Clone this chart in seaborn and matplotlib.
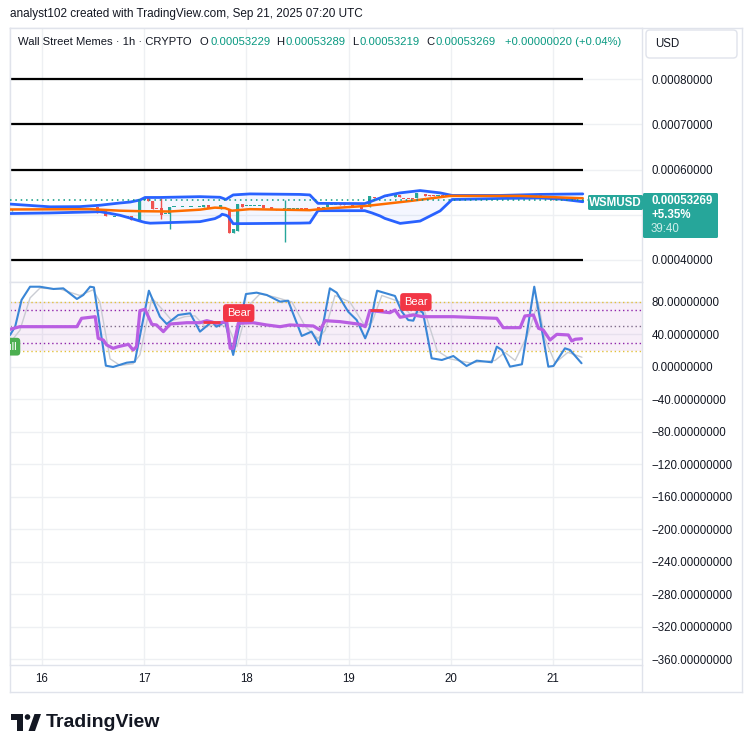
import matplotlib
matplotlib.use("Agg")
import matplotlib.pyplot as plt
import matplotlib.patches as mpatches
from matplotlib.lines import Line2D
import numpy as np
import pandas as pd
import seaborn as sns

# Time axis: hours since Sep 16 00:00 UTC. Prices in units of 1e-8 USD.
day_ticks = [0, 24, 48, 72, 96, 120]
day_labels = ["16", "17", "18", "19", "20", "21"]

candle_hour = [-7, -5, -3, -1, 1, 3, 5, 7, 9, 10, 11, 13, 15, 17, 19, 20, 21, 22, 23, 24,
               25, 26, 27, 28, 29, 30, 31, 33, 35, 37, 38, 39, 40, 42, 44, 45, 46, 47, 48, 49,
               50, 51, 52, 54, 55, 57, 58, 59, 60, 61, 62, 65, 66, 67, 68, 69, 70, 71, 73, 75,
               77, 78, 80, 81, 83, 84, 85, 86, 87, 88, 89, 90, 91, 92, 93, 94, 95, 96, 97, 98,
               99, 100, 101, 102, 103, 104, 105, 106, 107, 108, 109, 110, 111, 112, 113, 114,
               115, 116, 117, 118, 119, 120, 121, 122, 123, 124, 125, 126, 127]
candle_open = [51000, 51236, 51236, 51236, 51236, 51236, 51236, 51236, 51236, 51461, 51461,
               51640, 50720, 49506, 49600, 49600, 49730, 48989, 48607, 53326, 53865, 53101,
               51461, 51461, 50200, 50270, 51753, 51753, 51753, 51753, 51618, 52067, 51618,
               51236, 51011, 46000, 46517, 52359, 51977, 51977, 51977, 51977, 52067, 51618,
               51236, 51236, 51461, 51461, 51461, 51500, 51500, 51685, 50920, 51685, 52359,
               52359, 52359, 52359, 52100, 51685, 51685, 53865, 54000, 54000, 53865, 54382,
               53700, 53700, 53700, 53640, 54606, 54606, 54260, 54260, 54150, 54300, 54250,
               54382, 54224, 54300, 54200, 54280, 54150, 54300, 54180, 54250, 54100, 54300,
               54200, 54350, 54224, 54000, 54150, 54050, 54200, 53865, 54382, 54200, 54382,
               53865, 54000, 53865, 53326, 53640, 53326, 53450, 53640, 53101, 53229]
candle_high = [51300, 51236, 51236, 51236, 51236, 51236, 51236, 51236, 51520, 51461, 51461,
               51700, 50720, 49550, 49600, 49600, 49730, 49050, 53326, 53708, 54000, 53101,
               51461, 53708, 50270, 51618, 51753, 51753, 51753, 51753, 52202, 52067, 51618,
               52202, 51011, 46742, 52359, 52359, 51977, 51977, 51977, 51977, 52067, 51618,
               51236, 53326, 51461, 51461, 51461, 51500, 51500, 51685, 51685, 52359, 52359,
               52359, 52359, 52359, 52100, 51685, 54135, 53865, 54000, 54000, 54600, 54382,
               53700, 53700, 53700, 54831, 54606, 54606, 54260, 54260, 54382, 54300, 54382,
               54382, 54300, 54300, 54280, 54280, 54300, 54300, 54250, 54250, 54300, 54300,
               54350, 54350, 54224, 54150, 54150, 54200, 54200, 54382, 54382, 54300, 54382,
               54000, 54000, 53865, 53500, 53640, 53450, 53450, 53640, 53229, 53289]
candle_low = [50850, 51236, 51236, 51236, 51236, 51236, 51236, 51236, 51236, 51461, 51461,
              50494, 49730, 49506, 49551, 49551, 48764, 48989, 48607, 53326, 52966, 51236,
              51400, 48989, 50200, 46742, 51753, 51753, 51753, 51753, 51618, 51461, 51580,
              51236, 46000, 46000, 46517, 51753, 51977, 51977, 51977, 51977, 51461, 51236,
              51011, 43978, 51461, 51461, 51461, 51400, 51400, 50920, 50920, 51685, 52359,
              52359, 52150, 52150, 52000, 51236, 51685, 53800, 53950, 53950, 53865, 53865,
              53640, 53640, 53640, 53640, 54550, 54090, 54224, 54224, 54150, 54250, 54250,
              54224, 54224, 54200, 54200, 54150, 54150, 54180, 54180, 54100, 54100, 54200,
              54200, 54224, 54000, 54000, 54050, 54050, 54100, 53865, 54200, 54200, 53865,
              53865, 53900, 53326, 53326, 53326, 53326, 53300, 53101, 53101, 53219]
candle_close = [51236, 51236, 51236, 51236, 51236, 51236, 51236, 51236, 51461, 51461, 51461,
                50494, 49730, 49550, 49551, 49551, 48764, 49050, 53326, 53708, 52966, 51236,
                51400, 49955, 50270, 51618, 51753, 51753, 51753, 51753, 52202, 51461, 51580,
                52202, 46000, 46742, 52359, 51753, 51977, 51977, 51977, 51977, 51461, 51236,
                51011, 51461, 51461, 51461, 51461, 51400, 51400, 50920, 51685, 52359, 52359,
                52359, 52150, 52150, 52000, 51236, 54135, 53800, 53950, 53950, 54382, 53865,
                53640, 53640, 53640, 54831, 54550, 54090, 54224, 54224, 54382, 54250, 54382,
                54224, 54300, 54200, 54280, 54150, 54300, 54180, 54250, 54100, 54300, 54200,
                54350, 54224, 54000, 54150, 54050, 54200, 54100, 54382, 54200, 54300, 53865,
                54000, 53900, 53326, 53500, 53326, 53450, 53300, 53101, 53229, 53269]

# Bollinger bands
band_hour = [-7.5, 1.9, 8.9, 13.6, 16.0, 18.3, 20.7, 23.0, 24.2, 25.4, 27.7, 37.1, 40.6, 41.8,
             42.3, 43.2, 43.7, 44.9, 48.8, 60.6, 62.9, 64.8, 75.8, 77.5, 79.4, 80.5, 84.1,
             88.8, 93.5, 96.3, 107.5, 116.9, 121.6, 127.0]
band_upper = [52359, 51753, 51798, 52100, 52359, 52600, 52809, 53258, 53820, 53820, 53820,
              54000, 53900, 53865, 53700, 53370, 53700, 54382, 54606, 54494, 54382, 52517,
              52472, 53033, 53700, 54157, 54831, 55348, 54831, 54269, 54269, 54494, 54550,
              54606]
band_lower = [50270, 50400, 50560, 50674, 50300, 49888, 49250, 48607, 48300, 48135, 48200,
              48472, 49146, 49700, 50112, 49900, 49663, 48023, 48050, 48150, 48202, 50899,
              50899, 50400, 49730, 49200, 48090, 48607, 50854, 53370, 53595, 53708, 53483,
              52876]
basis_hour = [-7.5, 11.3, 18.3, 23.0, 30.0, 37.1, 40.6, 43.0, 44.6, 48.8, 62.9, 66.5, 76.5,
              86.4, 95.8, 112.2, 127.0]
basis_value = [51168, 51236, 50899, 50786, 50719, 51124, 51573, 51461, 50899, 51236, 51011,
               51348, 51977, 53033, 54157, 54157, 53640]

level_prices = [40000, 60000, 70000, 80000]
price_ticks = [40000, 50000, 60000, 70000, 80000]

# RSI / stochastic panel
rsi_hour = [-7.5, -5.2, 8.2, 9.3, 12.5, 13.2, 14.4, 15.2, 16.7, 17.9, 20.3, 21.4, 22.2, 23.0,
            24.2, 25.8, 26.9, 28.5, 30.1, 34.0, 37.1, 38.7, 41.0, 43.4, 44.2, 44.9, 46.1,
            49.6, 52.8, 55.9, 58.2, 63.7, 65.3, 66.5, 70.0, 74.7, 75.9, 77.0, 81.7, 82.9,
            84.1, 87.2, 89.5, 96.6, 106.8, 108.3, 112.3, 113.4, 115.4, 116.6, 117.7, 119.3,
            120.9, 123.6, 124.4, 125.2, 126.7]
rsi_value = [46.4, 49.6, 49.6, 59.9, 61.9, 35.3, 33.2, 27.1, 23.0, 25.0, 27.9, 20.9, 25.0,
             69.3, 71.0, 52.5, 51.7, 43.5, 52.9, 54.5, 54.5, 57.0, 53.8, 55.8, 23.0, 23.0,
             53.8, 54.5, 51.7, 49.6, 51.7, 50.5, 45.5, 57.0, 55.8, 52.5, 49.6, 69.5, 66.8,
             70.2, 61.2, 64.0, 61.9, 61.9, 59.9, 48.4, 48.4, 62.8, 64.0, 47.6, 45.5, 33.2,
             40.2, 39.4, 32.0, 34.1, 34.8]
k_hour = [-7.5, -6.3, -4.8, -2.8, -0.5, 2.7, 5.0, 8.2, 9.7, 11.3, 12.2, 15.0, 16.7, 19.9,
          21.8, 25.1, 27.7, 29.3, 32.0, 34.8, 37.1, 39.9, 41.0, 43.0, 44.9, 47.9, 50.4, 52.8,
          55.9, 57.8, 61.0, 63.3, 65.1, 67.6, 69.2, 71.9, 73.9, 75.9, 77.0, 78.2, 78.7, 82.9,
          84.5, 86.0, 87.2, 88.4, 89.5, 91.5, 93.9, 96.6, 99.7, 102.1, 105.6, 106.8, 108.0,
          109.9, 112.7, 115.6, 118.9, 120.1, 122.8, 124.0, 126.7]
k_value = [39.4, 49.6, 82.5, 98.8, 98.8, 96.0, 96.8, 83.7, 88.6, 98.8, 98.0, 1.6, 0.0, 5.3,
           6.5, 93.9, 61.9, 52.9, 64.0, 66.1, 43.5, 55.8, 49.6, 55.8, 14.8, 89.8, 91.5, 88.6,
           80.4, 81.6, 38.2, 43.5, 27.1, 96.8, 91.5, 68.1, 57.8, 35.3, 49.6, 82.5, 93.9, 87.4,
           68.1, 57.8, 57.0, 72.2, 66.1, 10.7, 8.6, 13.5, 1.2, 7.8, 5.8, 25.0, 20.9, 0.4, 3.3,
           98.8, 0.4, 1.2, 23.0, 20.9, 4.6]
d_hour = [-7.5, -5.2, -2.8, -0.5, 4.2, 8.9, 12.0, 13.6, 16.0, 18.3, 21.4, 23.0, 25.8, 28.4,
          30.5, 33.6, 35.9, 38.3, 40.6, 43.7, 45.8, 48.4, 51.2, 54.7, 58.7, 61.8, 64.8, 66.5,
          68.8, 72.3, 75.9, 77.5, 79.8, 84.1, 86.4, 89.9, 92.8, 95.8, 100.5, 106.4, 108.7,
          111.1, 114.1, 116.5, 118.1, 120.5, 123.5, 126.8]
d_value = [30, 45, 85, 97, 96, 88, 95, 80, 10, 2, 4, 15, 85, 70, 57, 62, 63, 50, 52, 50, 25,
           75, 90, 86, 80, 50, 35, 45, 88, 80, 50, 55, 88, 80, 65, 68, 20, 10, 5, 8, 18, 8,
           40, 80, 35, 5, 18, 12]
stoch_ticks = list(range(-360, 81, 40))

bear_hour = [46.2, 87.8]
bear_value = [66.4, 80.0]
bull_hour = [-8.2]
bull_value = [25.0]
div_start = [37.8, 77.0]
div_end = [41.8, 80.1]
div_value = [55.8, 70.2]

UP = "#26a69a"
DOWN = "#ef5350"
TEAL_TXT = "#089981"
TXT = "#131722"
GRID = "#eef0f3"
BORDER = "#e0e3eb"
W, H = 750, 753


def fx(px):
    return px / W


def fy(py):
    return 1 - py / H


sns.set_theme(style="white")
plt.rcParams["font.family"] = ["Liberation Sans", "DejaVu Sans"]

fig = plt.figure(figsize=(7.5, 7.53), dpi=100)
fig.patch.set_facecolor("white")

# outer frame of the chart
ax_frame = fig.add_axes([fx(10), fy(692), 732 / W, 664 / H])
ax_frame.set_xticks([])
ax_frame.set_yticks([])
for s in ax_frame.spines.values():
    s.set_color(BORDER)
    s.set_linewidth(1)

ax_p = fig.add_axes([fx(10), fy(282), 632 / W, 254 / H])
ax_i = fig.add_axes([fx(10), fy(665), 632 / W, 383 / H])
xlim = (-7.51, 140.9)

for ax in (ax_p, ax_i):
    ax.set_facecolor("white")
    ax.set_xlim(*xlim)
    ax.set_xticks(day_ticks)
    ax.grid(True, color=GRID, linewidth=1)
    ax.set_axisbelow(True)
    for s in ax.spines.values():
        s.set_color(BORDER)
        s.set_linewidth(1)
    ax.yaxis.tick_right()
    ax.tick_params(axis="y", length=0, pad=7, labelsize=8.3, labelcolor=TXT)
    ax.tick_params(axis="x", length=0)
    ax.set_xlabel("")
    ax.set_ylabel("")

# ---- price panel
ax_p.set_ylim(35138, 91271)
ax_p.set_yticks(price_ticks)
ax_p.set_yticklabels(["" if p == 50000 else f"{p * 1e-8:.8f}" for p in price_ticks])
ax_p.set_xticklabels([])

ax_p.hlines(level_prices, xlim[0], candle_hour[-1], colors="black", linewidth=1.6, zorder=2)

cdf = pd.DataFrame(dict(hour=candle_hour, open=candle_open, high=candle_high,
                        low=candle_low, close=candle_close))
colors = np.where(cdf["close"] >= cdf["open"], UP, DOWN)
real = (cdf["close"] - cdf["open"]).abs()
body = real.clip(lower=200)
bottom = cdf[["open", "close"]].min(axis=1) - (body - real) / 2
ax_p.vlines(cdf["hour"], cdf["low"], cdf["high"], colors=colors, linewidth=1, zorder=3)
ax_p.bar(cdf["hour"], body, bottom=bottom, width=0.72, color=colors, linewidth=0, zorder=3)

ax_p.fill_between(band_hour, band_lower, band_upper, color="#2962ff", alpha=0.05, lw=0, zorder=2)
sns.lineplot(x=band_hour, y=band_upper, ax=ax_p, color="#2962ff", linewidth=2, zorder=4)
sns.lineplot(x=band_hour, y=band_lower, ax=ax_p, color="#2962ff", linewidth=2, zorder=4)
sns.lineplot(x=basis_hour, y=basis_value, ax=ax_p, color="#ff6d00", linewidth=1.8, zorder=4)

last = candle_close[-1]
ax_p.axhline(last, color=TEAL_TXT, linestyle=(0, (1, 2.5)), linewidth=1.1, zorder=4)

# ---- indicator panel
ax_i.set_ylim(-366.8, 104.6)
ax_i.set_yticks(stoch_ticks)
ax_i.set_yticklabels([f"{v:.8f}".replace("-", "\u2212") for v in stoch_ticks])
ax_i.set_xticklabels(day_labels)
ax_i.tick_params(axis="x", pad=6, labelsize=8.3, labelcolor=TXT)

ax_i.axhspan(20, 80, color="#9c27b0", alpha=0.08, lw=0, zorder=1)
ax_i.axhline(80, color="#e2c13a", linestyle=(0, (1, 2)), linewidth=1, zorder=2)
ax_i.axhline(20, color="#e2c13a", linestyle=(0, (1, 2)), linewidth=1, zorder=2)
ax_i.axhline(70, color="#8e24aa", linestyle=(0, (1, 2)), linewidth=1, zorder=2)
ax_i.axhline(30, color="#8e24aa", linestyle=(0, (1, 2)), linewidth=1, zorder=2)
ax_i.axhline(50, color="#7e6b8a", linestyle=(0, (1, 2)), linewidth=1, zorder=2)

sns.lineplot(x=d_hour, y=d_value, ax=ax_i, color="#c9ccd3", linewidth=1, zorder=3)
sns.lineplot(x=k_hour, y=k_value, ax=ax_i, color="#3a86d6", linewidth=1.5, zorder=4)
sns.lineplot(x=rsi_hour, y=rsi_value, ax=ax_i, color="#b95ee2", linewidth=2.3, zorder=5)
ax_i.hlines(div_value, div_start, div_end, colors="#f23645", linewidth=2, zorder=6)

for h, v in zip(bear_hour, bear_value):
    ax_i.text(h, v, "Bear", color="white", fontsize=8, ha="center", va="center", zorder=7,
              bbox=dict(boxstyle="round,pad=0.35,rounding_size=0.3", fc="#f23645", ec="none"))
for h, v in zip(bull_hour, bull_value):
    ax_i.text(h, v, "Bull", color="white", fontsize=8, ha="center", va="center", zorder=7,
              clip_on=True,
              bbox=dict(boxstyle="round,pad=0.35,rounding_size=0.3", fc="#4caf50", ec="none"))

# separator under price axis in time strip
fig.add_artist(Line2D([fx(642), fx(642)], [fy(665), fy(692)], color=BORDER, lw=1,
                      transform=fig.transFigure))

# ---- header texts
fig.text(fx(10), fy(14), "analyst102 created with TradingView.com, Sep 21, 2025 07:20 UTC",
         fontsize=8.5, color=TXT, va="center")
header = [(18, "Wall Street Memes \u00b7 1h \u00b7 CRYPTO", TXT), (200, "O", TXT),
          (210, "0.00053229", TEAL_TXT), (276, "H", TXT), (286, "0.00053289", TEAL_TXT),
          (352, "L", TXT), (359.5, "0.00053219", TEAL_TXT), (426, "C", TXT),
          (435.5, "0.00053269", TEAL_TXT), (505, "+0.00000020 (+0.04%)", TEAL_TXT)]
for x, s, c in header:
    fig.text(fx(x), fy(42), s, fontsize=8.1, color=c, va="center")

fig.add_artist(mpatches.FancyBboxPatch((fx(646), fy(58)), 91 / W, 28 / H,
                                       boxstyle="round,pad=0,rounding_size=0.005",
                                       transform=fig.transFigure, fc="white", ec=BORDER, lw=1))
fig.text(fx(655), fy(44), "USD", fontsize=8.3, color=TXT, va="center")

# ---- price tags
fig.add_artist(mpatches.FancyBboxPatch((fx(588), fy(210)), 55 / W, 15 / H,
                                       boxstyle="round,pad=0,rounding_size=0.002",
                                       transform=fig.transFigure, fc=UP, ec="none"))
fig.text(fx(615.5), fy(202.5), "WSMUSD", fontsize=8.3, color="white", ha="center",
         va="center", fontweight="bold")
fig.add_artist(mpatches.FancyBboxPatch((fx(643), fy(238)), 75 / W, 45 / H,
                                       boxstyle="round,pad=0,rounding_size=0.002",
                                       transform=fig.transFigure, fc=UP, ec="none"))
fig.text(fx(651), fy(201), f"{last * 1e-8:.8f}", fontsize=8.3, color="white", va="center",
         fontweight="bold")
fig.text(fx(651), fy(215.5), "+5.35%", fontsize=8.3, color="white", va="center",
         fontweight="bold")
fig.text(fx(651), fy(229.5), "39:40", fontsize=8.3, color="#cfeeea", va="center")

# ---- TradingView logo
fig.add_artist(mpatches.Polygon([(fx(11), fy(714)), (fx(23), fy(714)), (fx(23), fy(731)),
                                 (fx(17), fy(731)), (fx(17), fy(719.5)), (fx(11), fy(719.5))],
                                closed=True, transform=fig.transFigure, fc=TXT, ec="none"))
fig.add_artist(mpatches.Circle((fx(27.5), fy(717)), 2.8 / W, transform=fig.transFigure,
                               fc=TXT, ec="none"))
fig.add_artist(mpatches.Polygon([(fx(28.5), fy(731)), (fx(35), fy(731)), (fx(41), fy(714)),
                                 (fx(34.5), fy(714))],
                                closed=True, transform=fig.transFigure, fc=TXT, ec="none"))
fig.text(fx(46), fy(722.5), "TradingView", fontsize=14, fontweight="bold", color=TXT,
         va="center")

fig.savefig("out.png", dpi=100)
